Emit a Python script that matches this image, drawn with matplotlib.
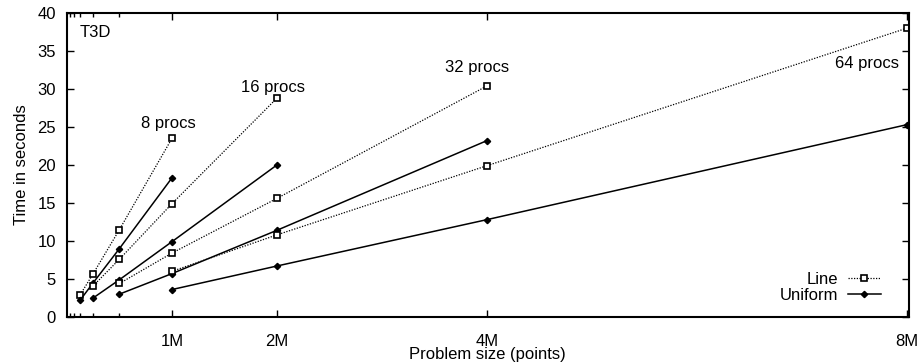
import numpy as np
import matplotlib
matplotlib.use('Agg')
import matplotlib.pyplot as plt

plt.rcParams['font.family'] = ['Liberation Sans', 'DejaVu Sans']

procs = [8, 16, 32, 64]
sizes = {8: [0.125, 0.25, 0.5, 1], 16: [0.25, 0.5, 1, 2],
         32: [0.5, 1, 2, 4], 64: [1, 2, 4, 8]}
line_times = {8: [2.9, 5.7, 11.5, 23.5], 16: [4.1, 7.6, 14.9, 28.8],
              32: [4.4, 8.4, 15.6, 30.4], 64: [6.0, 10.8, 19.9, 38.0]}
uniform_times = {8: [2.2, 4.5, 9.0, 18.3], 16: [2.5, 4.9, 9.9, 20.0],
                 32: [3.0, 5.7, 11.4, 23.2], 64: [3.6, 6.7, 12.8, 25.3]}
xtick_vals = [1, 2, 4, 8]
xtick_labels = ['1M', '2M', '4M', '8M']
minor_xticks = [0.03125, 0.0625, 0.125, 0.25, 0.5]
yticks = [0, 5, 10, 15, 20, 25, 30, 35, 40]

# label positions for each group of curves
label_pos = {8: (0.97, 25.5), 16: (1.96, 30.2), 32: (3.91, 32.8), 64: (7.62, 33.4)}

fig = plt.figure(figsize=(9.24, 3.63), dpi=100)
ax = fig.add_axes([0.0725, 0.127, 0.911, 0.837])

for p in procs:
    hl, = ax.plot(sizes[p], line_times[p], color='black', linestyle=(0, (1, 1.2)), linewidth=0.9,
                  marker='s', markersize=4.5, markerfacecolor='white', markeredgecolor='black',
                  markeredgewidth=1.2)
    hu, = ax.plot(sizes[p], uniform_times[p], color='black', linestyle='-', linewidth=1.1,
                  marker='D', markersize=3.2, markerfacecolor='black', markeredgecolor='black')
    ax.text(label_pos[p][0], label_pos[p][1], '%d procs' % p, fontsize=12, ha='center', va='center')

ax.text(0.12, 37.5, 'T3D', fontsize=12, ha='left', va='center')

ax.set_xlim(0, 8.02)
ax.set_ylim(0, 40)
ax.set_xticks(xtick_vals)
ax.set_xticklabels(xtick_labels)
ax.set_xticks(minor_xticks, minor=True)
ax.set_yticks(yticks)
ax.tick_params(direction='in', top=True, right=True, length=5, width=1, labelsize=12)
ax.tick_params(axis='y', pad=8)
ax.tick_params(axis='x', pad=12)
ax.tick_params(which='minor', direction='in', top=True, length=3, width=1)
for s in ax.spines.values():
    s.set_linewidth(1.5)

ax.set_xlabel('Problem size (points)', fontsize=12, labelpad=-1)
ax.set_ylabel('Time in seconds', fontsize=12, labelpad=6)

leg = ax.legend([hl, hu], ['Line', 'Uniform'], loc='lower right', frameon=False, fontsize=12,
                markerfirst=False, numpoints=1, handlelength=2.0, handletextpad=0.6,
                labelspacing=0.05, bbox_to_anchor=(0.985, -0.003))

fig.savefig('out.png', dpi=100)
